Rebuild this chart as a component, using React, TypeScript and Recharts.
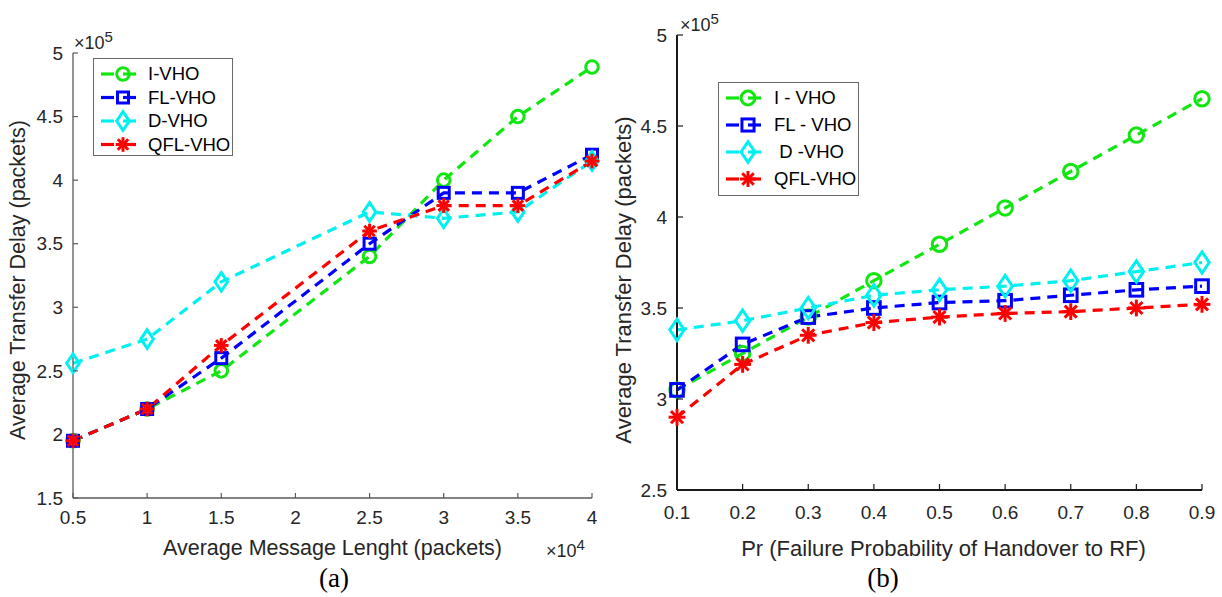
import React from "react";
import { LineChart, Line, XAxis, YAxis, Legend, Label } from "recharts";

// (a) average message length, x10^4 packets
const msgLength = [0.5, 1, 1.5, 2.5, 3, 3.5, 4];
// average transfer delay, x10^5 packets
const delayA_I = [1.95, 2.2, 2.5, 3.4, 4.0, 4.5, 4.89];
const delayA_FL = [1.95, 2.2, 2.6, 3.5, 3.9, 3.9, 4.2];
const delayA_D = [2.56, 2.75, 3.2, 3.75, 3.7, 3.75, 4.15];
const delayA_QFL = [1.95, 2.2, 2.7, 3.6, 3.8, 3.8, 4.15];

// (b) failure probability of handover to RF
const failProb = [0.1, 0.2, 0.3, 0.4, 0.5, 0.6, 0.7, 0.8, 0.9];
const delayB_I = [3.05, 3.25, 3.45, 3.65, 3.85, 4.05, 4.25, 4.45, 4.65];
const delayB_FL = [3.05, 3.3, 3.45, 3.5, 3.53, 3.54, 3.57, 3.6, 3.62];
const delayB_D = [3.38, 3.43, 3.5, 3.57, 3.6, 3.62, 3.65, 3.7, 3.75];
const delayB_QFL = [2.9, 3.19, 3.35, 3.42, 3.45, 3.47, 3.48, 3.5, 3.52];

const ticksAX = [0.5, 1, 1.5, 2, 2.5, 3, 3.5, 4];
const ticksAY = [1.5, 2, 2.5, 3, 3.5, 4, 4.5, 5];
const ticksBX = [0.1, 0.2, 0.3, 0.4, 0.5, 0.6, 0.7, 0.8, 0.9];
const ticksBY = [2.5, 3, 3.5, 4, 4.5, 5];

const legendA = ["I-VHO", "FL-VHO", "D-VHO", "QFL-VHO"];
const legendB = ["I - VHO", "FL - VHO", "\u00a0D -VHO", "QFL-VHO"];

const dataA = msgLength.map((x, i) => ({
  x, i: delayA_I[i], fl: delayA_FL[i], d: delayA_D[i], qfl: delayA_QFL[i],
}));
const dataB = failProb.map((x, i) => ({
  x, i: delayB_I[i], fl: delayB_FL[i], d: delayB_D[i], qfl: delayB_QFL[i],
}));

const SERIES = [
  { key: "i", color: "#11e611", shape: "circle" },
  { key: "fl", color: "#0000ff", shape: "square" },
  { key: "d", color: "#00f0f0", shape: "diamond" },
  { key: "qfl", color: "#ff0000", shape: "star" },
];

const FONT = "'Liberation Sans', Arial, sans-serif";
const INK = "#262626";

function Marker({ cx, cy, shape, color, s = 1 }: any) {
  const sw = 3;
  if (cx == null || cy == null) return null;
  if (shape === "circle")
    return <circle cx={cx} cy={cy} r={6.3 * s} fill="none" stroke={color} strokeWidth={sw} />;
  if (shape === "square")
    return <rect x={cx - 5.5 * s} y={cy - 5.5 * s} width={11 * s} height={11 * s} fill="none" stroke={color} strokeWidth={sw} />;
  if (shape === "diamond") {
    const w = 6.3 * s, h = 9.3 * s;
    return (
      <polygon
        points={`${cx},${cy - h} ${cx + w},${cy} ${cx},${cy + h} ${cx - w},${cy}`}
        fill="none" stroke={color} strokeWidth={sw}
      />
    );
  }
  const r = 7.3 * s;
  return (
    <g stroke={color} strokeWidth={3}>
      <line x1={cx - r} y1={cy} x2={cx + r} y2={cy} />
      <line x1={cx} y1={cy - r} x2={cx} y2={cy + r} />
      <line x1={cx - r * 0.72} y1={cy - r * 0.72} x2={cx + r * 0.72} y2={cy + r * 0.72} />
      <line x1={cx - r * 0.72} y1={cy + r * 0.72} x2={cx + r * 0.72} y2={cy - r * 0.72} />
    </g>
  );
}

function BottomTick({ x, y, payload, len, dy, fontSize, color }: any) {
  return (
    <g>
      <line x1={x} x2={x} y1={y} y2={y - len} stroke={color} strokeWidth={1.2} />
      <text x={x} y={y + dy} textAnchor="middle" fontFamily={FONT} fontSize={fontSize} fill={INK}>
        {payload.value}
      </text>
    </g>
  );
}

function TopTick({ x, y, len, color }: any) {
  return <line x1={x} x2={x} y1={y} y2={y + len} stroke={color} strokeWidth={1.2} />;
}

function LeftTick({ x, y, payload, len, fontSize, color }: any) {
  return (
    <g>
      <line x1={x} x2={x + len} y1={y} y2={y} stroke={color} strokeWidth={1.2} />
      <text x={x - 10} y={y} dy="0.35em" textAnchor="end" fontFamily={FONT} fontSize={fontSize} fill={INK}>
        {payload.value}
      </text>
    </g>
  );
}

function RightTick({ x, y, len, color }: any) {
  return <line x1={x} x2={x - len} y1={y} y2={y} stroke={color} strokeWidth={1.2} />;
}

function LegendBox({ labels, rowGap, textX, s }: any) {
  const h = 20 + rowGap * 3 + 18;
  return (
    <svg width="100%" height={h} style={{ display: "block" }}>
      {SERIES.map((sr, k) => {
        const cy = 15 + k * rowGap;
        return (
          <g key={sr.key}>
            <line x1={7} x2={20} y1={cy} y2={cy} stroke={sr.color} strokeWidth={3.2} />
            <line x1={29} x2={42} y1={cy} y2={cy} stroke={sr.color} strokeWidth={3.2} />
            <Marker cx={29} cy={cy} shape={sr.shape} color={sr.color} s={s} />
            <text x={textX} y={cy} dy="0.35em" fontFamily={FONT} fontSize={18.5} fill="#000">
              {labels[k]}
            </text>
          </g>
        );
      })}
    </svg>
  );
}

function superX(x: number, y: number, base: string, exp: string) {
  return (
    <text x={x} y={y} fontFamily={FONT} fontSize={18} fill={INK}>
      <tspan>{"\u00d7"}</tspan>
      <tspan>{base}</tspan>
      <tspan dy={-7} fontSize={15}>{exp}</tspan>
    </text>
  );
}

export default function App() {
  const lineProps = (sr: any, s: number, sw: number) => ({
    key: sr.key,
    type: "linear" as const,
    dataKey: sr.key,
    stroke: sr.color,
    strokeWidth: sw,
    strokeDasharray: "10 7",
    isAnimationActive: false,
    dot: (p: any) => <Marker key={`${sr.key}-${p.index}`} cx={p.cx} cy={p.cy} shape={sr.shape} color={sr.color} s={s} />,
    activeDot: false,
  });

  const axA = "#5a5a5a";
  const axB = "#1a1a1a";

  return (
    <div style={{ position: "absolute", left: 0, top: 0, width: 1222, height: 597, background: "#fff", overflow: "hidden" }}>
      {/* (a) */}
      <div style={{ position: "absolute", left: 0, top: 0 }}>
        <LineChart width={620} height={597} data={dataA} margin={{ top: 53, right: 28, bottom: 69, left: 23 }}>
          <XAxis
            dataKey="x" type="number" domain={[0.5, 4]} ticks={ticksAX} interval={0}
            height={30} tickSize={0} tickMargin={0}
            axisLine={{ stroke: axA, strokeWidth: 1.3 }} tickLine={false}
            tick={<BottomTick len={5} dy={26} fontSize={19} color={axA} />}
          >
            <Label
              content={(p: any) => {
                const vb = p.viewBox;
                const cx = vb.x + vb.width / 2;
                return (
                  <g>
                    <text x={cx} y={vb.y + 57} textAnchor="middle" fontFamily={FONT} fontSize={21.5} fill={INK}>
                      Average Message Lenght (packets)
                    </text>
                    {superX(vb.x + vb.width - 46, vb.y + 59, "10", "4")}
                    <text x={334} y={587} textAnchor="middle" fontFamily="'Liberation Serif', 'Times New Roman', serif" fontSize={27} fill="#000">
                      (a)
                    </text>
                  </g>
                );
              }}
            />
          </XAxis>
          <XAxis
            xAxisId="top" orientation="top" dataKey="x" type="number" domain={[0.5, 4]} ticks={ticksAX}
            interval={0} height={0} tickSize={0} tickMargin={0} allowDataOverflow
            axisLine={{ stroke: axA, strokeWidth: 1.3 }} tickLine={false}
            tick={<TopTick len={5} color={axA} />}
          />
          <YAxis
            type="number" domain={[1.5, 5]} ticks={ticksAY} interval={0} width={50}
            tickSize={0} tickMargin={0}
            axisLine={{ stroke: axA, strokeWidth: 1.3 }} tickLine={false}
            tick={<LeftTick len={5} fontSize={19} color={axA} />}
          >
            <Label
              content={(p: any) => {
                const vb = p.viewBox;
                const px = vb.x + vb.width;
                return (
                  <g>
                    <text
                      x={px - 55} y={280} transform={`rotate(-90 ${px - 55} 280)`} dominantBaseline="central"
                      textAnchor="middle" fontFamily={FONT} fontSize={21.5} fill={INK}
                    >
                      Average Transfer Delay (packets)
                    </text>
                    {superX(px + 1, vb.y - 4, "10", "5")}
                  </g>
                );
              }}
            />
          </YAxis>
          <YAxis
            yAxisId="right" orientation="right" type="number" domain={[1.5, 5]} ticks={ticksAY} interval={0}
            width={0} tickSize={0} tickMargin={0} allowDataOverflow
            axisLine={{ stroke: axA, strokeWidth: 1.3 }} tickLine={false}
            tick={<RightTick len={5} color={axA} />}
          />
          <Legend
            layout="vertical" align="center" verticalAlign="middle"
            wrapperStyle={{ left: 93, top: 58, width: 140, height: 98, border: "1.3px solid #6a6a6a", background: "#fff", boxSizing: "border-box" }}
            content={() => <LegendBox labels={legendA} rowGap={23.5} textX={54} s={1} />}
          />
          {SERIES.map((sr) => (
            <Line {...lineProps(sr, 1, 3.2)} />
          ))}
        </LineChart>
      </div>

      {/* (b) */}
      <div style={{ position: "absolute", left: 600, top: 0 }}>
        <LineChart width={622} height={597} data={dataB} margin={{ top: 35, right: 20, bottom: 77, left: 27 }}>
          <XAxis
            dataKey="x" type="number" domain={[0.1, 0.9]} ticks={ticksBX} interval={0}
            height={30} tickSize={0} tickMargin={0}
            axisLine={{ stroke: axB, strokeWidth: 2 }} tickLine={false}
            tick={<BottomTick len={6} dy={29} fontSize={19} color={axB} />}
          >
            <Label
              content={(p: any) => {
                const vb = p.viewBox;
                const cx = vb.x + vb.width / 2 + 4;
                return (
                  <g>
                    <text x={cx} y={vb.y + 66} textAnchor="middle" fontFamily={FONT} fontSize={22} fill={INK}>
                      Pr (Failure Probability of Handover to RF)
                    </text>
                    <text x={283} y={587} textAnchor="middle" fontFamily="'Liberation Serif', 'Times New Roman', serif" fontSize={27} fill="#000">
                      (b)
                    </text>
                  </g>
                );
              }}
            />
          </XAxis>
          <XAxis
            xAxisId="top" orientation="top" dataKey="x" type="number" domain={[0.1, 0.9]} ticks={ticksBX}
            interval={0} height={0} tickSize={0} tickMargin={0} allowDataOverflow
            axisLine={{ stroke: axB, strokeWidth: 2 }} tickLine={false}
            tick={<TopTick len={6} color={axB} />}
          />
          <YAxis
            type="number" domain={[2.5, 5]} ticks={ticksBY} interval={0} width={50}
            tickSize={0} tickMargin={0}
            axisLine={{ stroke: axB, strokeWidth: 2 }} tickLine={false}
            tick={<LeftTick len={6} fontSize={19} color={axB} />}
          >
            <Label
              content={(p: any) => {
                const vb = p.viewBox;
                const px = vb.x + vb.width;
                return (
                  <g>
                    <text
                      x={px - 54} y={280} transform={`rotate(-90 ${px - 54} 280)`} dominantBaseline="central"
                      textAnchor="middle" fontFamily={FONT} fontSize={22} fill={INK}
                    >
                      Average Transfer Delay (packets)
                    </text>
                    {superX(px + 3, vb.y - 4, "10", "5")}
                  </g>
                );
              }}
            />
          </YAxis>
          <YAxis
            yAxisId="right" orientation="right" type="number" domain={[2.5, 5]} ticks={ticksBY} interval={0}
            width={0} tickSize={0} tickMargin={0} allowDataOverflow
            axisLine={{ stroke: axB, strokeWidth: 2 }} tickLine={false}
            tick={<RightTick len={6} color={axB} />}
          />
          <Legend
            layout="vertical" align="center" verticalAlign="middle"
            wrapperStyle={{ left: 118, top: 82, width: 141, height: 114, border: "1.3px solid #6a6a6a", background: "#fff", boxSizing: "border-box" }}
            content={() => <LegendBox labels={legendB} rowGap={27} textX={55} s={1.1} />}
          />
          {SERIES.map((sr) => (
            <Line {...lineProps(sr, 1.15, 3.2)} />
          ))}
        </LineChart>
      </div>
    </div>
  );
}
